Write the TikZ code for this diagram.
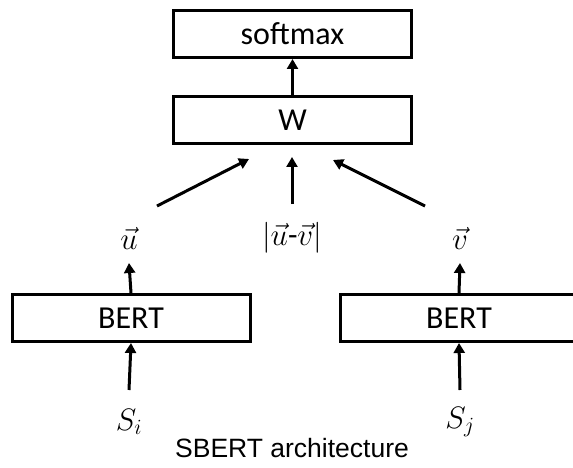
\documentclass[tikz,border=0pt]{standalone}
\DeclareFontShape{OML}{cmm}{m}{it}{<->cmmi12}{}
\DeclareFontShape{OMS}{cmsy}{m}{n}{<->cmsy10}{}
\DeclareFontShape{OT1}{cmr}{m}{n}{<->cmr12}{}
\usepackage{fontspec}
\setmainfont{Carlito}
\newfontfamily\capfont{Liberation Sans}
\usetikzlibrary{arrows.meta}
\tikzset{
  blk/.style={draw, line width=3pt, rectangle, inner sep=0pt, minimum width=238pt, minimum height=47pt, font=\fontsize{32}{38}\selectfont},
  mth/.style={inner sep=0pt, font=\fontsize{31}{36}\selectfont},
  arr/.style={line width=3pt, -{Triangle[length=10pt,width=11pt]}},
}
\begin{document}
\begin{tikzpicture}[x=1pt,y=-1pt]
\useasboundingbox (0,0) rectangle (573,468);
\node[blk] (sm) at (292.5,34) {softmax};
\node[blk] (W) at (292.5,120) {W};
\node[blk] (bl) at (131,318) {BERT};
\node[blk] (br) at (459,318) {BERT};
\node[mth] (u) at (129,238) {$\vec{u}$};
\node[mth] (uv) at (292,238) {$|\vec{u}\mbox{-}\vec{v}|$};
\node[mth] (v) at (460,238) {$\vec{v}$};
\node[mth] (si) at (129,422) {$S_i$};
\node[mth] (sj) at (460,422) {$S_j$};
\node[font=\capfont\fontsize{26.5}{30}\selectfont, inner sep=0pt] (cap) at (292,448) {SBERT architecture};
\coordinate (wl) at (249,159);
\coordinate (wm) at (292,157);
\coordinate (wr) at (333,160);
\draw[arr] (W.north) -- (sm.south);
\draw[arr] ([shift={(28,-32)}]u.center) -- (wl);
\draw[arr] ([shift={(0,-34)}]uv.center) -- (wm);
\draw[arr] ([shift={(-35,-32)}]v.center) -- (wr);
\draw[arr] (bl.north) -- ([yshift=-25]u.center);
\draw[arr] (br.north) -- ([yshift=-25]v.center);
\draw[arr] ([yshift=32]si.center) -- (bl.south);
\draw[arr] ([yshift=32]sj.center) -- (br.south);
\end{tikzpicture}
\end{document}
